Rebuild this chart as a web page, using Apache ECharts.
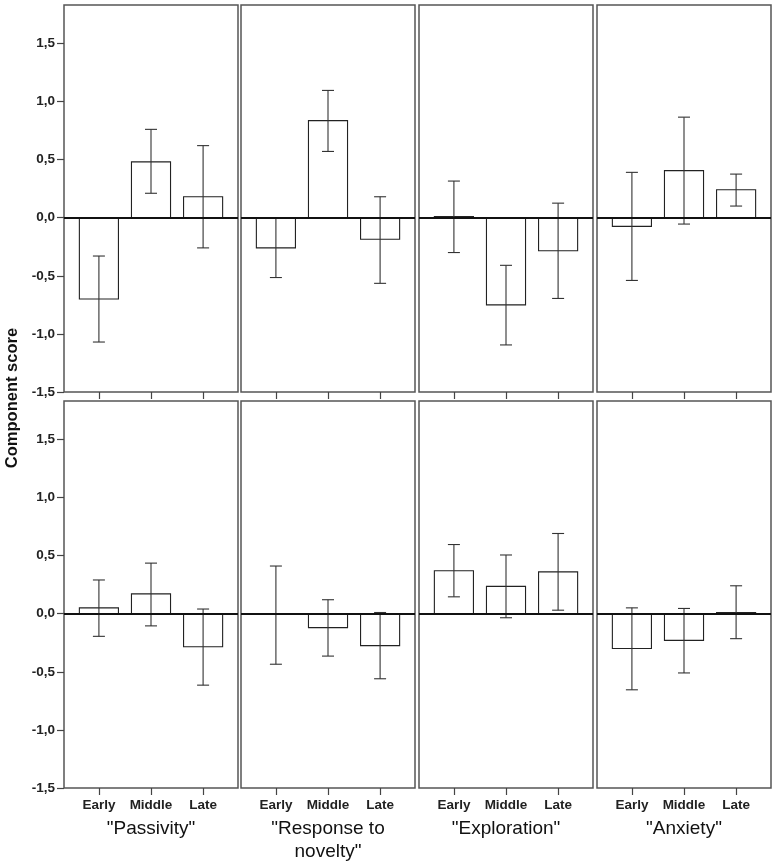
<!DOCTYPE html>
<html>
<head>
<meta charset="utf-8">
<script src="https://cdn.jsdelivr.net/npm/echarts@6/dist/echarts.min.js"></script>
<style>
html,body{margin:0;padding:0;background:#fff;}
#chart{width:776px;height:864px;}
</style>
</head>
<body>
<div id="chart"></div>
<script>
// ---- data ----
var categories = ['Early', 'Middle', 'Late'];
var panelTitles = ['"Passivity"', '"Response to\nnovelty"', '"Exploration"', '"Anxiety"'];
var yTicks = [-1.5, -1.0, -0.5, 0.0, 0.5, 1.0, 1.5];
var yTitle = 'Component score';

// top row: mean, lower CI, upper CI (per panel, per category)
var topMean = [[-0.70, 0.48, 0.18], [-0.26, 0.835, -0.185], [0.01, -0.75, -0.285], [-0.075, 0.405, 0.24]];
var topLow  = [[-1.07, 0.21, -0.26], [-0.515, 0.57, -0.565], [-0.30, -1.095, -0.695], [-0.54, -0.055, 0.10]];
var topHigh = [[-0.33, 0.76, 0.62], [0.0, 1.095, 0.18], [0.315, -0.41, 0.125], [0.39, 0.865, 0.375]];

// bottom row
var botMean = [[0.05, 0.17, -0.285], [-0.005, -0.12, -0.275], [0.37, 0.235, 0.36], [-0.30, -0.23, 0.01]];
var botLow  = [[-0.195, -0.105, -0.615], [-0.435, -0.365, -0.56], [0.145, -0.035, 0.03], [-0.655, -0.51, -0.215]];
var botHigh = [[0.29, 0.435, 0.04], [0.41, 0.12, 0.01], [0.595, 0.505, 0.69], [0.05, 0.045, 0.24]];

// ---- layout ----
var colLeft = [64, 241, 419, 597];
var panelW = 174;
var rowTop = [5, 401];
var panelH = 387;
var FONT = '"Liberation Sans", Arial, sans-serif';

var chart = echarts.init(document.getElementById('chart'), null, {renderer: 'canvas'});

function fmt(v) { return v.toFixed(1).replace('.', ','); }

var grids = [], xAxes = [], yAxes = [], series = [];
var rows = [[topMean, topLow, topHigh], [botMean, botLow, botHigh]];

function renderItem(params, api) {
  var x = api.value(0), m = api.value(1), lo = api.value(2), hi = api.value(3);
  var a = api.coord([x - 0.375, 0]);
  var b = api.coord([x + 0.375, m]);
  var c = api.coord([x, lo]);
  var d = api.coord([x, hi]);
  var cap = 6;
  var top = Math.min(a[1], b[1]);
  var h = Math.max(Math.abs(a[1] - b[1]), 0.8);
  return {
    type: 'group',
    children: [
      {type: 'rect', shape: {x: a[0], y: top, width: b[0] - a[0], height: h},
       style: {fill: '#fff', stroke: '#222', lineWidth: 1.1}},
      {type: 'line', shape: {x1: c[0], y1: c[1], x2: d[0], y2: d[1]},
       style: {stroke: '#333', lineWidth: 1.1}},
      {type: 'line', shape: {x1: c[0] - cap, y1: c[1], x2: c[0] + cap, y2: c[1]},
       style: {stroke: '#333', lineWidth: 1.1}},
      {type: 'line', shape: {x1: d[0] - cap, y1: d[1], x2: d[0] + cap, y2: d[1]},
       style: {stroke: '#333', lineWidth: 1.1}}
    ]
  };
}

var idx = 0;
for (var r = 0; r < 2; r++) {
  for (var c = 0; c < 4; c++) {
    grids.push({left: colLeft[c], top: rowTop[r], width: panelW, height: panelH,
      show: true, borderColor: '#555', borderWidth: 1.5, backgroundColor: '#fff', containLabel: false});
    xAxes.push({
      type: 'value', gridIndex: idx, min: -0.67, max: 2.67, position: 'bottom',
      axisLine: {show: false, onZero: false}, splitLine: {show: false},
      axisTick: {show: true, customValues: [0, 1, 2], length: 7, lineStyle: {color: '#444', width: 1.2}},
      axisLabel: {show: r === 1, customValues: [0, 1, 2], margin: 10,
        formatter: function (v) { return categories[Math.round(v)]; },
        fontFamily: FONT, fontWeight: 'bold', fontSize: 13.5, color: '#222'}
    });
    yAxes.push({
      type: 'value', gridIndex: idx, min: -1.5, max: 1.83, position: 'left',
      axisLine: {show: false, onZero: false}, splitLine: {show: false},
      axisTick: {show: c === 0, customValues: yTicks, length: 7, lineStyle: {color: '#444', width: 1.2}},
      axisLabel: {show: c === 0, customValues: yTicks, margin: 9, formatter: fmt,
        fontFamily: FONT, fontWeight: 'bold', fontSize: 13.5, color: '#222'}
    });
    var data = [];
    for (var k = 0; k < 3; k++) {
      data.push([k, rows[r][0][c][k], rows[r][1][c][k], rows[r][2][c][k]]);
    }
    series.push({
      type: 'custom', xAxisIndex: idx, yAxisIndex: idx, renderItem: renderItem,
      encode: {x: 0, y: [1, 2, 3]}, data: data, silent: true, clip: false,
      markLine: {silent: true, symbol: ['none', 'none'], label: {show: false},
        lineStyle: {color: '#111', width: 1.8, type: 'solid'}, animation: false,
        data: [{yAxis: 0}]}
    });
    idx++;
  }
}

var graphics = [];
for (var c2 = 0; c2 < 4; c2++) {
  graphics.push({type: 'text', x: colLeft[c2] + panelW / 2, y: 817,
    style: {text: panelTitles[c2], fontFamily: FONT, fontSize: 19, fill: '#111',
      textAlign: 'center', textVerticalAlign: 'top', lineHeight: 23}});
}
graphics.push({type: 'text', x: 12, y: 398, rotation: Math.PI / 2,
  style: {text: yTitle, fontFamily: FONT, fontSize: 16.5, fontWeight: 'bold', fill: '#111',
    textAlign: 'center', textVerticalAlign: 'middle'}});

chart.setOption({
  animation: false,
  backgroundColor: '#fff',
  grid: grids, xAxis: xAxes, yAxis: yAxes, series: series,
  graphic: graphics
});
</script>
</body>
</html>
